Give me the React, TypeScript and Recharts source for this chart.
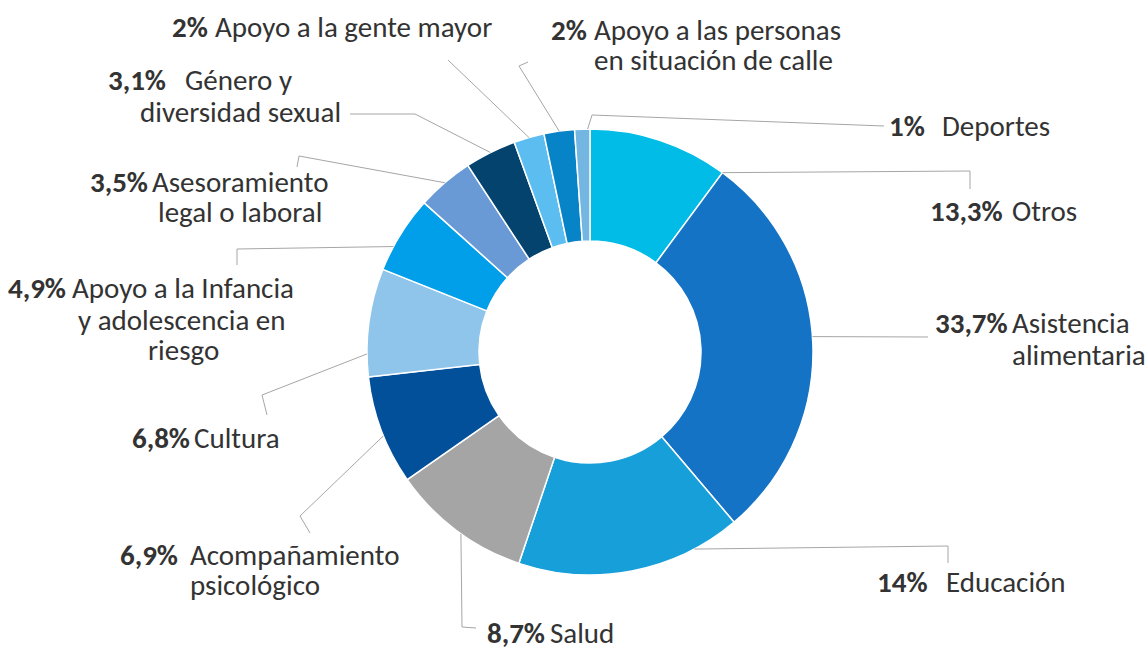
import React from 'react';
import { PieChart, Pie, Cell } from 'recharts';

// Categories, in drawing order (clockwise from 12 o'clock)
const categories = [
  'Otros',
  'Asistencia alimentaria',
  'Educación',
  'Salud',
  'Acompañamiento psicológico',
  'Cultura',
  'Apoyo a la Infancia y adolescencia en riesgo',
  'Asesoramiento legal o laboral',
  'Género y diversidad sexual',
  'Apoyo a la gente mayor',
  'Apoyo a las personas en situación de calle',
  'Deportes',
];

// Slice sizes as drawn in the picture (share of the ring)
const sliceShares = [10.1, 28.6, 16.3, 10.1, 7.9, 7.8, 5.6, 4.1, 3.7, 2.2, 2.2, 1.1];

// Percent texts printed in the labels
const labelPercents = ['13,3%', '33,7%', '14%', '8,7%', '6,9%', '6,8%', '4,9%', '3,5%', '3,1%', '2%', '2%', '1%'];

// Label text broken into lines as printed
const labelLines = [
  ['Otros'],
  ['Asistencia', 'alimentaria'],
  ['Educación'],
  ['Salud'],
  ['Acompañamiento', 'psicológico'],
  ['Cultura'],
  ['Apoyo a la Infancia', 'y adolescencia en', 'riesgo'],
  ['Asesoramiento', 'legal o laboral'],
  ['Género y', 'diversidad sexual'],
  ['Apoyo a la gente mayor'],
  ['Apoyo a las personas', 'en situación de calle'],
  ['Deportes'],
];

const sliceColors = [
  '#00BCE6', '#1473C5', '#179FD9', '#A5A5A5', '#02509A', '#8FC5EB',
  '#019EEA', '#6A9AD6', '#03436E', '#5BBDF0', '#0783C8', '#74B6E2',
];

// Label placement (layout only): percent position, line positions, where the
// leader attaches along the slice arc (0..1), and elbow points of the leader.
const labelLayout = [
  { pct: [930, 221], lines: [[1012, 221]], attach: 1, elbows: [[970, 171], [970, 189]] },
  { pct: [935, 333], lines: [[1012, 333], [1012, 365]], attach: 0.48, elbows: [[928, 337]] },
  { pct: [877, 592], lines: [[946, 592]], attach: 0.21, elbows: [[948, 546], [948, 563]] },
  { pct: [487, 643], lines: [[550, 643]], attach: 0.46, elbows: [[462, 627], [476, 628]] },
  { pct: [120, 565], lines: [[190, 565], [190, 595]], attach: 0.45, elbows: [[300, 516], [310, 533]] },
  { pct: [132, 448], lines: [[194, 448]], attach: 0.21, elbows: [[262, 395], [267, 415]] },
  { pct: [8, 298], lines: [[72, 298], [78, 330], [148, 360]], attach: 0.32, elbows: [[237, 249], [237, 265]] },
  { pct: [90, 192], lines: [[152, 192], [158, 222]], attach: 0.5, elbows: [[299, 156], [297, 167]] },
  { pct: [108, 90], lines: [[185, 90], [140, 122]], attach: 0.5, elbows: [[415, 114], [350, 114]] },
  { pct: [172, 37], lines: [[215, 37]], attach: 0.5, elbows: [[448, 60]] },
  { pct: [551, 40], lines: [[594, 40], [594, 70]], attach: 0.5, elbows: [[519, 66], [528, 62]] },
  { pct: [889, 136], lines: [[942, 136]], attach: 0.85, elbows: [[592, 115], [884, 126]] },
];

const data = categories.map((name, i) => ({ name, value: sliceShares[i] }));

const FONT = 'Carlito, Calibri, Lato, "Open Sans", sans-serif';
const FS = 29;
const RAD = Math.PI / 180;

const renderLabel = (props: any) => {
  const { cx, cy, outerRadius, index, midAngle } = props;
  const lay = labelLayout[index];
  if (!lay) return null;
  const sa = props.startAngle ?? midAngle;
  const ea = props.endAngle ?? midAngle;
  const ang = sa + (ea - sa) * lay.attach;
  const sx = cx + outerRadius * Math.cos(-ang * RAD);
  const sy = cy + outerRadius * Math.sin(-ang * RAD);
  const pts = [[sx, sy], ...lay.elbows].map((p) => `${p[0]},${p[1]}`).join(' ');
  return (
    <g key={`lbl-${index}`}>
      <polyline points={pts} fill="none" stroke="#A6A6A6" strokeWidth={1} />
      <text x={lay.pct[0]} y={lay.pct[1]} fontFamily={FONT} fontSize={FS} fontWeight={700} fill="#333333" textAnchor="start">
        {labelPercents[index]}
      </text>
      {labelLines[index].map((ln, j) => (
        <text key={j} x={lay.lines[j][0]} y={lay.lines[j][1]} fontFamily={FONT} fontSize={FS} fill="#333333" textAnchor="start">
          {ln}
        </text>
      ))}
    </g>
  );
};

export default function App() {
  return (
    <div style={{ position: 'absolute', left: 0, top: 0, width: 1146, height: 650, background: '#fff' }}>
      <PieChart width={1146} height={650} margin={{ top: 0, right: 0, bottom: 0, left: 0 }}>
        <Pie
          data={data}
          dataKey="value"
          nameKey="name"
          cx={590}
          cy={352}
          innerRadius={111}
          outerRadius={223}
          startAngle={90}
          endAngle={-270}
          stroke="#FFFFFF"
          strokeWidth={1.5}
          isAnimationActive={false}
          label={renderLabel}
          labelLine={false}
        >
          {data.map((d, i) => (
            <Cell key={d.name} fill={sliceColors[i]} />
          ))}
        </Pie>
      </PieChart>
    </div>
  );
}
